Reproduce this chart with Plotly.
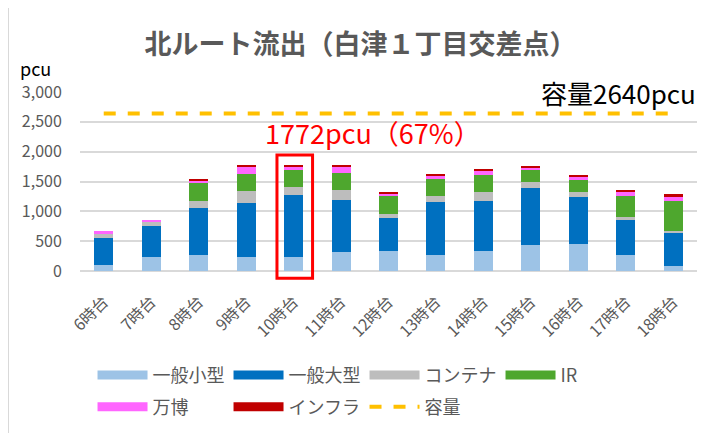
import plotly.graph_objects as go

categories = ["6時台", "7時台", "8時台", "9時台", "10時台", "11時台", "12時台",
              "13時台", "14時台", "15時台", "16時台", "17時台", "18時台"]
small_general = [107, 233, 267, 233, 240, 317, 333, 273, 333, 428, 445, 273, 90]
large_general = [450, 528, 783, 912, 1030, 878, 550, 877, 845, 962, 788, 584, 560]
container = [66, 71, 117, 200, 140, 167, 79, 100, 145, 105, 90, 50, 17]
ir = [0, 0, 306, 288, 280, 288, 300, 290, 284, 200, 200, 343, 500]
expo = [44, 24, 50, 112, 65, 100, 45, 55, 76, 45, 60, 83, 83]
infra = [0, 0, 17, 22, 17, 17, 21, 28, 24, 27, 24, 29, 33]
capacity = [2640] * len(categories)
yticks = [0, 500, 1000, 1500, 2000, 2500, 3000]

series = [
    ("一般小型", small_general, "#9DC3E6", "legend"),
    ("一般大型", large_general, "#0070C0", "legend"),
    ("コンテナ", container, "#BDBDBD", "legend"),
    ("IR", ir, "#4EA72E", "legend"),
    ("万博", expo, "#FF66FF", "legend2"),
    ("インフラ", infra, "#C00000", "legend2"),
]

FONT = "Noto Sans CJK JP"
fig = go.Figure()
for name, vals, col, lg in series:
    fig.add_trace(go.Bar(x=categories, y=vals, name=name, marker_color=col,
                         marker_line_width=0, showlegend=False))
    fig.add_trace(go.Scatter(x=[None], y=[None], mode="lines", name=name, legend=lg,
                             line=dict(color=col, width=9), showlegend=True))

fig.add_trace(go.Scatter(x=categories, y=capacity, mode="lines", name="容量",
                         legend="legend2",
                         line=dict(color="#FFC000", width=4, dash="dash")))

fig.add_shape(type="rect", xref="x", yref="paper", x0=3.65, x1=4.40, y0=-0.04, y1=0.648,
              line=dict(color="#FF0000", width=3))
fig.add_shape(type="line", xref="paper", yref="paper", x0=-0.1159, x1=-0.1159,
              y0=-0.91, y1=1.47, line=dict(color="#D9D9D9", width=1))

fig.add_annotation(text="容量2640pcu", xref="paper", yref="paper", x=1.002, y=1.0,
                   xanchor="right", yanchor="middle", showarrow=False,
                   font=dict(family=FONT, size=26, color="#000000"))
fig.add_annotation(text="1772pcu（67%）", xref="x", yref="y", x=4, y=2317,
                   xanchor="center", yanchor="middle", xshift=79, showarrow=False,
                   font=dict(family=FONT, size=27, color="#FF0000"))
fig.add_annotation(text="pcu", xref="paper", yref="paper", x=-0.1005, y=1.134,
                   xanchor="left", yanchor="middle", showarrow=False,
                   font=dict(family=FONT, size=18, color="#000000"))

legend_common = dict(orientation="h", xanchor="left", yref="container", yanchor="middle",
                     traceorder="normal", entrywidth=71, entrywidthmode="pixels",
                     itemwidth=50, bgcolor="rgba(0,0,0,0)",
                     font=dict(family=FONT, size=18, color="#595959"))

fig.update_layout(
    width=705, height=425,
    margin=dict(l=72, r=16, t=84, b=162, autoexpand=False),
    paper_bgcolor="white", plot_bgcolor="white",
    barmode="stack", bargap=0.6,
    title=dict(text="<b>北ルート流出（白津１丁目交差点）</b>", x=0.5, xanchor="center",
               y=0.913, yanchor="middle",
               font=dict(family=FONT, size=27, color="#595959")),
    font=dict(family=FONT, size=15, color="#595959"),
    xaxis=dict(type="category", tickangle=-45, showgrid=False, showline=False,
               ticks="outside", ticklen=14, tickcolor="rgba(0,0,0,0)",
               automargin=False, tickfont=dict(size=16, color="#595959")),
    yaxis=dict(range=[0, 3000], tickvals=yticks, tickformat=",d", showgrid=True,
               gridcolor="#D9D9D9", gridwidth=1.5, zeroline=True, zerolinecolor="#D9D9D9",
               zerolinewidth=1.5, ticks="outside", ticklen=14, tickcolor="rgba(0,0,0,0)",
               automargin=False, tickfont=dict(size=16, color="#595959")),
    legend=dict(x=0.0203, y=0.136, **legend_common),
    legend2=dict(x=0.0203, y=0.061, **legend_common),
)

fig.write_html("out.html")
